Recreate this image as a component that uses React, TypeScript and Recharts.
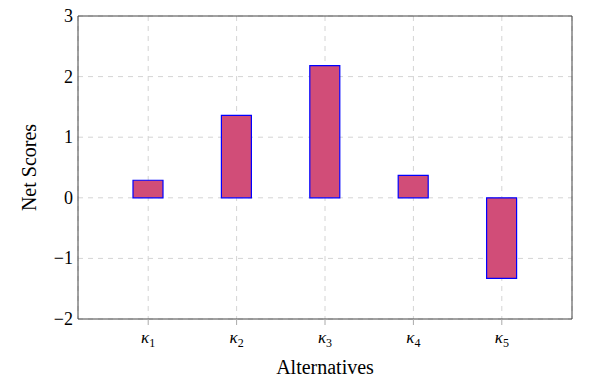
import React from 'react';
import { BarChart, Bar, XAxis, YAxis, CartesianGrid } from 'recharts';

const categories = ['1', '2', '3', '4', '5'];
const netScores = [0.29, 1.36, 2.18, 0.37, -1.33];
const yTicks = [-2, -1, 0, 1, 2, 3];

const data = categories.map((c, i) => ({ name: c, value: netScores[i] }));

const FONT = '"Liberation Serif", "DejaVu Serif", serif';

const fmt = (v: number) => (v < 0 ? '\u2212' + Math.abs(v) : String(v));

const KappaTick = (props: any) => {
  const { x, y, payload } = props;
  return (
    <text x={x} y={y + 16} textAnchor="middle" style={{ fontFamily: FONT, fontSize: 17 }} fill="#000">
      <tspan fontStyle="italic">κ</tspan>
      <tspan style={{ fontSize: 12 }} dy={4}>{payload.value}</tspan>
    </text>
  );
};

const YTick = (props: any) => {
  const { x, y, payload } = props;
  return (
    <text x={x} y={y} dy={6} textAnchor="end" style={{ fontFamily: FONT, fontSize: 18 }} fill="#000">
      {fmt(payload.value)}
    </text>
  );
};

export default function App() {
  return (
    <div style={{ position: 'absolute', left: 0, top: 0, width: 591, height: 380, background: '#fff', fontFamily: FONT }}>
      <BarChart
        width={591}
        height={380}
        data={data}
        margin={{ top: 15, right: 19, bottom: 21, left: 0 }}
        barSize={30}
        style={{ fontFamily: FONT }}
      >
        <CartesianGrid stroke="#d4d4d4" strokeDasharray="5 5" vertical horizontal />
        <XAxis
          dataKey="name"
          padding={{ left: 26, right: 26 }}
          height={40}
          axisLine={{ stroke: '#444' }}
          tickLine={{ stroke: '#aaa' }}
          tickSize={6}
          tick={<KappaTick />}
          interval={0}
          label={{ value: 'Alternatives', position: 'insideBottom', offset: -15, fontSize: 20, fill: '#000', style: { fontFamily: FONT } }}
        />
        <XAxis
          xAxisId="top"
          dataKey="name"
          orientation="top"
          padding={{ left: 26, right: 26 }}
          height={1}
          axisLine={{ stroke: '#444' }}
          tickLine={{ stroke: '#aaa' }}
          tickSize={6}
          tick={false}
          interval={0}
        />
        <YAxis
          domain={[-2, 3]}
          ticks={yTicks}
          width={78}
          axisLine={{ stroke: '#444' }}
          tickLine={false}
          tickSize={5}
          tickMargin={0}
          tick={<YTick />}
          interval={0}
          label={{ value: 'Net Scores', angle: -90, position: 'insideLeft', offset: 29, fontSize: 20, fill: '#000', style: { textAnchor: 'middle', fontFamily: FONT } }}
        />
        <YAxis
          yAxisId="right"
          orientation="right"
          domain={[-2, 3]}
          ticks={yTicks}
          width={1}
          mirror
          axisLine={{ stroke: '#444' }}
          tickLine={{ stroke: '#888' }}
          tickSize={6}
          tick={false}
          interval={0}
        />
        <Bar dataKey="value" fill="#D14D78" stroke="#0000ff" strokeWidth={1.2} isAnimationActive={false} />
      </BarChart>
    </div>
  );
}
